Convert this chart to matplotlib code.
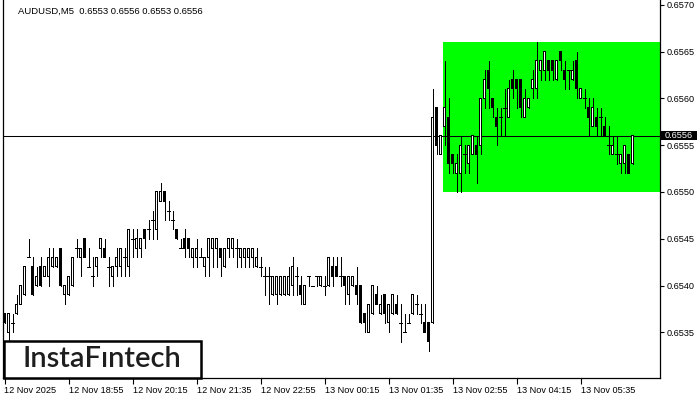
import matplotlib
matplotlib.use("Agg")
import matplotlib.pyplot as plt
from matplotlib.patches import Rectangle
import matplotlib.transforms as mtransforms

# chart header / levels
SYMBOL = "AUDUSD,M5"
LAST_OHLC = "0.6553 0.6556 0.6553 0.6556"
LAST_PRICE = 0.6556
ZONE_TOP = 0.6566
ZONE_BOTTOM = 0.6550
ZONE_START_BAR = 110
LOGO = "InstaFıntech"

# M5 bars, 12 Nov 17:35 -> 13 Nov 06:40 (1 pip steps)
opens = [
    0.6537, 0.6535, 0.6536, 0.6537, 0.6538, 0.6539, 0.6543, 0.6542, 0.6540, 0.6542,
    0.6541, 0.6541, 0.6542, 0.6542, 0.6544, 0.6539, 0.6539, 0.6540, 0.6544, 0.6543,
    0.6545, 0.6542, 0.6541, 0.6542, 0.6544, 0.6544, 0.6542, 0.6541, 0.6542, 0.6542,
    0.6543, 0.6542, 0.6545, 0.6544, 0.6544, 0.6546, 0.6546, 0.6547, 0.6546, 0.6549,
    0.6550, 0.6548, 0.6547, 0.6546, 0.6544, 0.6545, 0.6545, 0.6543, 0.6543, 0.6543,
    0.6542, 0.6543, 0.6544, 0.6544, 0.6544, 0.6542, 0.6544, 0.6544, 0.6544, 0.6543,
    0.6543, 0.6543, 0.6543, 0.6542, 0.6542, 0.6541, 0.6541, 0.6539, 0.6539, 0.6539,
    0.6539, 0.6539, 0.6540, 0.6541, 0.6540, 0.6538, 0.6541, 0.6540, 0.6541, 0.6540,
    0.6540, 0.6540, 0.6542, 0.6542, 0.6541, 0.6541, 0.6539, 0.6540, 0.6540, 0.6540,
    0.6537, 0.6535, 0.6537, 0.6539, 0.6537, 0.6539, 0.6536, 0.6537, 0.6538, 0.6536,
    0.6535, 0.6536, 0.6537, 0.6538, 0.6537, 0.6536, 0.6536, 0.6536, 0.6559, 0.6554,
    0.6557, 0.6558, 0.6554, 0.6552, 0.6552, 0.6554, 0.6553, 0.6554, 0.6555, 0.6555,
    0.6560, 0.6563, 0.6560, 0.6558, 0.6558, 0.6559, 0.6558, 0.6562, 0.6562, 0.6562,
    0.6558, 0.6559, 0.6561, 0.6561, 0.6563, 0.6563, 0.6564, 0.6564, 0.6562, 0.6565,
    0.6563, 0.6563, 0.6562, 0.6564, 0.6560, 0.6560, 0.6559, 0.6557, 0.6558, 0.6558,
    0.6557, 0.6555, 0.6554, 0.6554, 0.6553, 0.6553, 0.6554, 0.6553,
]
highs = [
    0.6537, 0.6537, 0.6537, 0.6539, 0.6540, 0.6542, 0.6545, 0.6543, 0.6542, 0.6543,
    0.6542, 0.6544, 0.6544, 0.6543, 0.6544, 0.6540, 0.6541, 0.6543, 0.6545, 0.6544,
    0.6545, 0.6544, 0.6543, 0.6543, 0.6545, 0.6545, 0.6543, 0.6542, 0.6544, 0.6544,
    0.6544, 0.6546, 0.6546, 0.6546, 0.6545, 0.6546, 0.6547, 0.6548, 0.6550, 0.6551,
    0.6550, 0.6549, 0.6548, 0.6546, 0.6545, 0.6546, 0.6545, 0.6544, 0.6545, 0.6544,
    0.6543, 0.6545, 0.6545, 0.6545, 0.6544, 0.6544, 0.6545, 0.6545, 0.6545, 0.6544,
    0.6544, 0.6544, 0.6544, 0.6544, 0.6543, 0.6542, 0.6542, 0.6541, 0.6541, 0.6541,
    0.6541, 0.6542, 0.6543, 0.6542, 0.6541, 0.6540, 0.6541, 0.6540, 0.6541, 0.6541,
    0.6541, 0.6543, 0.6543, 0.6543, 0.6543, 0.6541, 0.6541, 0.6541, 0.6542, 0.6540,
    0.6537, 0.6538, 0.6540, 0.6540, 0.6539, 0.6539, 0.6538, 0.6539, 0.6539, 0.6538,
    0.6537, 0.6537, 0.6539, 0.6539, 0.6538, 0.6538, 0.6536, 0.6561, 0.6559, 0.6556,
    0.6564, 0.6560, 0.6554, 0.6554, 0.6556, 0.6555, 0.6555, 0.6556, 0.6556, 0.6560,
    0.6563, 0.6564, 0.6560, 0.6559, 0.6559, 0.6561, 0.6562, 0.6563, 0.6562, 0.6562,
    0.6561, 0.6560, 0.6563, 0.6566, 0.6564, 0.6565, 0.6564, 0.6564, 0.6564, 0.6565,
    0.6564, 0.6563, 0.6564, 0.6565, 0.6561, 0.6561, 0.6560, 0.6560, 0.6559, 0.6559,
    0.6558, 0.6557, 0.6556, 0.6556, 0.6554, 0.6555, 0.6554, 0.6556,
]
lows = [
    0.6536, 0.6534, 0.6535, 0.6537, 0.6538, 0.6539, 0.6543, 0.6539, 0.6540, 0.6540,
    0.6541, 0.6540, 0.6542, 0.6542, 0.6540, 0.6538, 0.6539, 0.6540, 0.6543, 0.6541,
    0.6543, 0.6542, 0.6540, 0.6541, 0.6543, 0.6543, 0.6540, 0.6540, 0.6541, 0.6541,
    0.6541, 0.6541, 0.6543, 0.6543, 0.6543, 0.6544, 0.6545, 0.6545, 0.6545, 0.6549,
    0.6547, 0.6547, 0.6546, 0.6545, 0.6544, 0.6543, 0.6543, 0.6542, 0.6542, 0.6543,
    0.6541, 0.6541, 0.6542, 0.6542, 0.6541, 0.6542, 0.6543, 0.6543, 0.6542, 0.6542,
    0.6542, 0.6542, 0.6542, 0.6542, 0.6541, 0.6539, 0.6538, 0.6539, 0.6538, 0.6539,
    0.6539, 0.6539, 0.6539, 0.6539, 0.6538, 0.6538, 0.6540, 0.6540, 0.6540, 0.6540,
    0.6539, 0.6540, 0.6540, 0.6541, 0.6540, 0.6538, 0.6538, 0.6540, 0.6538, 0.6536,
    0.6535, 0.6535, 0.6537, 0.6538, 0.6537, 0.6536, 0.6535, 0.6537, 0.6537, 0.6534,
    0.6535, 0.6536, 0.6537, 0.6537, 0.6536, 0.6535, 0.6533, 0.6536, 0.6554, 0.6554,
    0.6555, 0.6552, 0.6552, 0.6550, 0.6550, 0.6552, 0.6552, 0.6554, 0.6551, 0.6554,
    0.6559, 0.6559, 0.6558, 0.6555, 0.6556, 0.6556, 0.6558, 0.6560, 0.6559, 0.6558,
    0.6558, 0.6559, 0.6560, 0.6560, 0.6562, 0.6562, 0.6562, 0.6562, 0.6562, 0.6563,
    0.6561, 0.6561, 0.6562, 0.6560, 0.6560, 0.6559, 0.6556, 0.6557, 0.6556, 0.6556,
    0.6556, 0.6554, 0.6554, 0.6553, 0.6552, 0.6552, 0.6552, 0.6553,
]
closes = [
    0.6536, 0.6537, 0.6536, 0.6538, 0.6540, 0.6542, 0.6543, 0.6539, 0.6541, 0.6540,
    0.6542, 0.6543, 0.6543, 0.6543, 0.6540, 0.6540, 0.6541, 0.6543, 0.6544, 0.6544,
    0.6543, 0.6542, 0.6541, 0.6543, 0.6545, 0.6543, 0.6542, 0.6542, 0.6543, 0.6544,
    0.6543, 0.6546, 0.6545, 0.6545, 0.6545, 0.6545, 0.6546, 0.6547, 0.6550, 0.6550,
    0.6549, 0.6548, 0.6547, 0.6545, 0.6544, 0.6544, 0.6544, 0.6544, 0.6544, 0.6543,
    0.6543, 0.6545, 0.6545, 0.6545, 0.6543, 0.6544, 0.6545, 0.6545, 0.6544, 0.6544,
    0.6544, 0.6544, 0.6544, 0.6543, 0.6542, 0.6541, 0.6541, 0.6541, 0.6541, 0.6541,
    0.6541, 0.6541, 0.6542, 0.6541, 0.6539, 0.6540, 0.6541, 0.6540, 0.6541, 0.6541,
    0.6540, 0.6543, 0.6541, 0.6541, 0.6541, 0.6540, 0.6541, 0.6541, 0.6539, 0.6536,
    0.6536, 0.6538, 0.6540, 0.6538, 0.6538, 0.6537, 0.6538, 0.6539, 0.6537, 0.6536,
    0.6535, 0.6536, 0.6539, 0.6538, 0.6537, 0.6535, 0.6534, 0.6558, 0.6555, 0.6556,
    0.6559, 0.6553, 0.6553, 0.6553, 0.6555, 0.6554, 0.6555, 0.6556, 0.6554, 0.6560,
    0.6562, 0.6561, 0.6559, 0.6557, 0.6558, 0.6559, 0.6561, 0.6561, 0.6561, 0.6559,
    0.6560, 0.6560, 0.6562, 0.6564, 0.6564, 0.6565, 0.6563, 0.6563, 0.6564, 0.6564,
    0.6562, 0.6563, 0.6563, 0.6561, 0.6561, 0.6560, 0.6558, 0.6559, 0.6557, 0.6558,
    0.6556, 0.6555, 0.6555, 0.6554, 0.6554, 0.6555, 0.6552, 0.6556,
]

time_labels = ["12 Nov 2025", "12 Nov 18:55", "12 Nov 20:15", "12 Nov 21:35",
               "12 Nov 22:55", "13 Nov 00:15", "13 Nov 01:35", "13 Nov 02:55",
               "13 Nov 04:15", "13 Nov 05:35"]
price_ticks = [0.6535, 0.6540, 0.6545, 0.6550, 0.6555, 0.6560, 0.6565, 0.6570]

FONT = "Liberation Sans"
plt.rcParams.update({"font.family": FONT, "font.size": 6.6})

W, H = 700, 400
PX_PRICE = 1 / 93600          # one screen pixel in price units
fig = plt.figure(figsize=(W / 100, H / 100), dpi=100)
ax = fig.add_axes([3 / W, 22 / H, 657 / W, 378 / H])

n = len(opens)
ax.set_xlim(-0.375, 163.875)   # 4 px per bar
ax.set_ylim(0.6570 - 373.3 * PX_PRICE, 0.6570 + 4.7 * PX_PRICE)

# buy/sell zone
ax.add_patch(Rectangle((ZONE_START_BAR - 0.375, ZONE_BOTTOM), 100, ZONE_TOP - ZONE_BOTTOM,
                       facecolor="#00ff00", edgecolor="none", zorder=0))
ax.axhline(LAST_PRICE, color="black", lw=0.75, zorder=1)

for i in range(n):
    o, h, l, c = opens[i], highs[i], lows[i], closes[i]
    ax.vlines(i, l, h, color="black", lw=0.72, antialiased=False, zorder=2)
    if abs(c - o) < 1e-7:
        ax.hlines(o, i - 0.375, i + 0.375, color="black", lw=0.72,
                  antialiased=False, zorder=3)
        continue
    lo, hi = min(o, c), max(o, c)
    ax.add_patch(Rectangle((i - 0.375, lo - 0.5 * PX_PRICE), 0.75, hi - lo + PX_PRICE,
                           facecolor="black", lw=0, antialiased=False, zorder=3))
    if c > o:
        ax.add_patch(Rectangle((i - 0.125, lo + 0.5 * PX_PRICE), 0.25,
                               hi - lo - PX_PRICE, facecolor="white", lw=0,
                               antialiased=False, zorder=4))

ax.spines["top"].set_visible(False)
for s in ["left", "right", "bottom"]:
    ax.spines[s].set_linewidth(0.9)

ax.set_xticks(list(range(0, n, 16)))
ax.set_xticklabels(time_labels, ha="left")
ax.tick_params(axis="x", direction="out", length=4, width=0.8, pad=1.5)
ax.yaxis.tick_right()
ax.set_yticks(price_ticks)
ax.set_yticklabels([f"{p:.4f}" for p in price_ticks])
ax.tick_params(axis="y", direction="out", length=3, width=0.8, pad=2)

# current price tag
tr = mtransforms.blended_transform_factory(ax.transAxes, ax.transData)
ax.add_patch(Rectangle((1 + 1 / 657, LAST_PRICE - 4.5 * PX_PRICE), 36 / 657, 9 * PX_PRICE,
                       transform=tr, facecolor="black", lw=0, clip_on=False, zorder=9))
ax.text(1 + 19 / 657, LAST_PRICE, f"{LAST_PRICE:.4f}", transform=tr, color="white",
        ha="center", va="center", zorder=10, clip_on=False)

fig.text(18 / W, 1 - 11 / H, f"{SYMBOL}  {LAST_OHLC}", ha="left", va="center",
         fontsize=6.8, color="black")

# logo box
fig.patches.append(Rectangle((4 / W, 22 / H), 197 / W, 37 / H, transform=fig.transFigure,
                             facecolor="white", edgecolor="black", lw=1.8, zorder=5))
fig.text(102 / W, 1 - 359 / H, LOGO, ha="center", va="center", fontsize=21,
         family="Lato", fontweight="semibold", color="#1e1e1e", zorder=6)

fig.savefig("out.png", dpi=100)
